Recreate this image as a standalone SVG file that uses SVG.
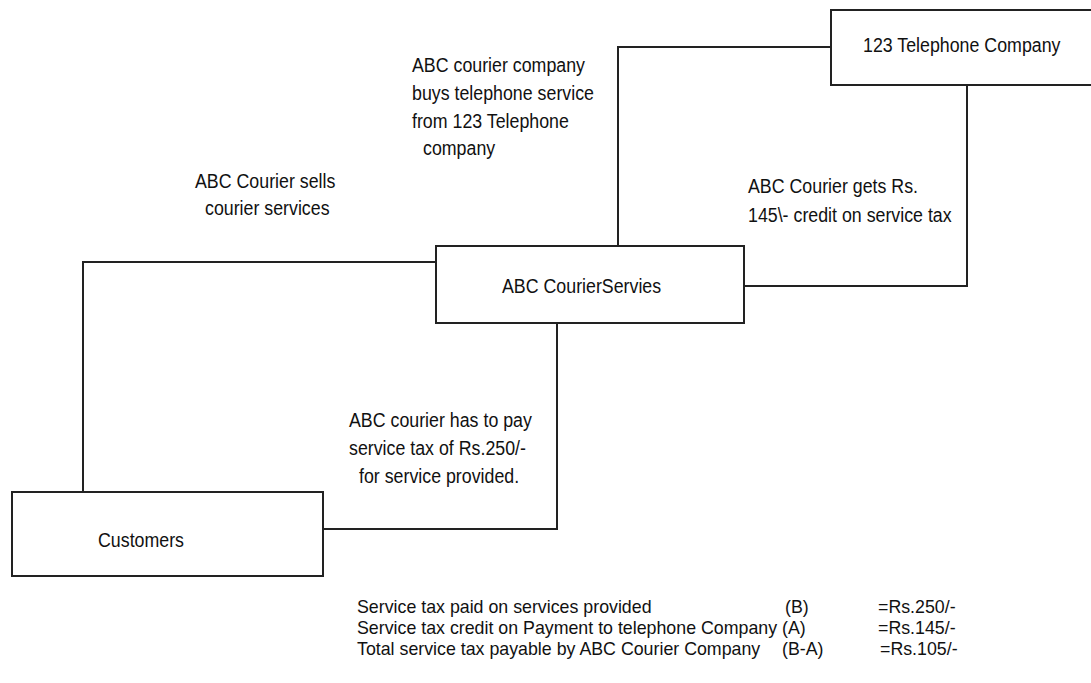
<svg xmlns="http://www.w3.org/2000/svg" width="1091" height="683" viewBox="0 0 1091 683">
<style>
.box{fill:#fff;stroke:#222;stroke-width:2}
.ln{fill:none;stroke:#222;stroke-width:2}
text{font-family:"Liberation Sans",Arial,sans-serif;font-size:17.8px;fill:#111}
</style>
<rect width="1091" height="683" fill="#fff"/>
<g id="connectors">
<polyline class="ln" points="831,47 618,47 618,246"/>
<polyline class="ln" points="967,85 967,286 744,286"/>
<polyline class="ln" points="436,262 83,262 83,492"/>
<polyline class="ln" points="557,323 557,529 323,529"/>
</g>
<g id="telephone">
<rect class="box" x="831" y="10" width="280" height="75"/>
<text transform="translate(863,52) scale(1,1.18)">123 Telephone Company</text>
</g>
<g id="abc">
<rect class="box" x="436" y="246" width="308" height="77"/>
<text transform="translate(502,293) scale(1,1.18)">ABC CourierServies</text>
</g>
<g id="customers">
<rect class="box" x="12" y="492" width="311" height="84"/>
<text transform="translate(98,547) scale(1,1.18)">Customers</text>
</g>
<g id="labels">
<text transform="translate(412,72) scale(1,1.18)">ABC courier company</text>
<text transform="translate(412,100) scale(1,1.18)">buys telephone service</text>
<text transform="translate(412,128) scale(1,1.18)">from 123 Telephone</text>
<text transform="translate(423,155) scale(1,1.18)">company</text>
<text transform="translate(195,188) scale(1,1.18)">ABC Courier sells</text>
<text transform="translate(205,215) scale(1,1.18)">courier services</text>
<text transform="translate(748,193) scale(1,1.18)">ABC Courier gets Rs.</text>
<text transform="translate(748,222) scale(1,1.18)">145\- credit on service tax</text>
<text transform="translate(349,427) scale(1,1.18)">ABC courier has to pay</text>
<text transform="translate(349,455) scale(1,1.18)">service tax of Rs.250/-</text>
<text transform="translate(359,483) scale(1,1.18)">for service provided.</text>
</g>
<g id="summary">
<text x="357" y="613">Service tax paid on services provided</text>
<text x="785" y="613">(B)</text>
<text x="878" y="613">=Rs.250/-</text>
<text x="357" y="634">Service tax credit on Payment to telephone Company (A)</text>
<text x="878" y="634">=Rs.145/-</text>
<text x="357" y="655">Total service tax payable by ABC Courier Company</text>
<text x="782" y="655">(B-A)</text>
<text x="880" y="655">=Rs.105/-</text>
</g>
</svg>
